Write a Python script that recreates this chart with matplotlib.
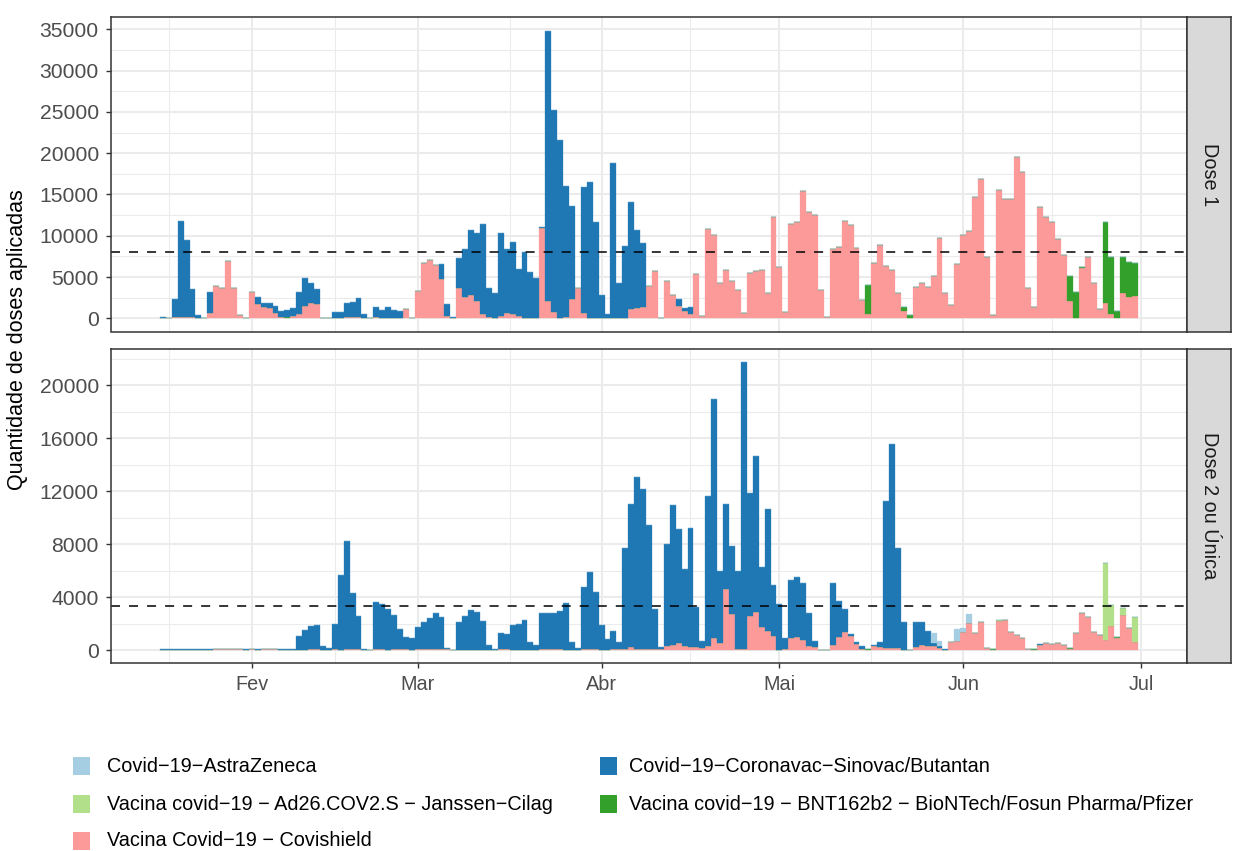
import matplotlib
matplotlib.use("Agg")
import matplotlib.dates as mdates
import matplotlib.pyplot as plt
import pandas as pd
from matplotlib.patches import Rectangle

plt.rcParams["font.family"] = ["Liberation Sans", "DejaVu Sans"]

W, H = 1243, 851

VACCINES = [
    "Covid\u221219\u2212AstraZeneca",
    "Covid\u221219\u2212Coronavac\u2212Sinovac/Butantan",
    "Vacina covid\u221219 \u2212 Ad26.COV2.S \u2212 Janssen\u2212Cilag",
    "Vacina covid\u221219 \u2212 BNT162b2 \u2212 BioNTech/Fosun Pharma/Pfizer",
    "Vacina Covid\u221219 \u2212 Covishield",
]
COLORS = ["#A6CEE3", "#1F78B4", "#B2DF8A", "#33A02C", "#FB9A99"]
DOSES = ["Dose 1", "Dose 2 ou \u00danica"]
REFERENCE_LINE = [8000, 3320]

days = pd.date_range("2021-01-17", "2021-06-30", freq="D")

# daily doses, one value per day from 2021-01-17
covishield_dose1 = [
    0, 80, 150, 100, 100, 100, 0, 80, 650, 3900,
    3670, 6940, 3670, 400, 80, 3190, 1735, 1410, 1290, 650,
    160, 0, 320, 525, 1490, 1860, 1735, 80, 80, 80,
    0, 200, 120, 120, 0, 80, 160, 0, 0, 0,
    0, 1130, 80, 3310, 6700, 7060, 6460, 4760, 320, 0,
    3670, 2580, 2825, 2100, 525, 160, 80, 280, 650, 525,
    280, 80, 80, 80, 10940, 2100, 770, 80, 160, 2340,
    3670, 650, 80, 80, 80, 0, 80, 0, 80, 1130,
    1250, 1370, 3915, 5730, 80, 4520, 2825, 1490, 890, 525,
    5370, 280, 10820, 10090, 4280, 5850, 4520, 3430, 650, 5490,
    5730, 5850, 3070, 12270, 6220, 770, 11420, 11660, 15420, 12870,
    12510, 3430, 160, 8400, 8640, 11790, 11300, 8520, 2220, 525,
    6700, 8880, 6340, 5850, 3070, 890, 0, 3790, 4280, 3790,
    5120, 9730, 3070, 1615, 6580, 10090, 10570, 14690, 16870, 7430,
    400, 15540, 14450, 14450, 19530, 17720, 3670, 1370, 13480, 12270,
    11660, 9600, 7670, 2100, 0, 6100, 7430, 4280, 1130, 1860,
    525, 0, 3070, 2580, 2700,
]
coronavac_dose1 = [
    100, 0, 2200, 11700, 9400, 3450, 400, 0, 2540, 0,
    0, 0, 0, 0, 0, 0, 850, 450, 570, 840,
    730, 900, 930, 2665, 3390, 2420, 1815, 0, 0, 690,
    770, 1660, 1860, 2340, 525, 0, 1210, 1010, 1370, 1010,
    890, 0, 0, 0, 0, 0, 0, 1820, 1415, 160,
    3630, 5820, 7875, 8230, 10895, 3510, 2990, 10050, 7750, 8715,
    5690, 7950, 5530, 4800, 120, 32690, 24450, 21510, 15860, 11260,
    0, 15250, 16420, 11580, 2745, 525, 18720, 4280, 8680, 12960,
    9450, 7750, 0, 0, 0, 0, 0, 850, 360, 845,
] + [0] * 75
pfizer_dose1_dates = ["2021-02-07", "2021-05-16", "2021-05-22", "2021-05-23",
                      "2021-06-19", "2021-06-20", "2021-06-21", "2021-06-25",
                      "2021-06-26", "2021-06-27", "2021-06-28", "2021-06-29",
                      "2021-06-30"]
pfizer_dose1 = [100, 3500, 480, 400, 3020, 3190, 120, 9800, 6900, 890, 4360, 4240, 4000]

covishield_dose2 = [
    0, 0, 0, 0, 0, 0, 0, 0, 0, 40,
    40, 40, 40, 40, 0, 40, 0, 40, 40, 40,
    0, 0, 0, 0, 0, 40, 40, 0, 0, 40,
    0, 40, 40, 40, 0, 0, 40, 40, 0, 40,
    40, 40, 0, 40, 40, 40, 40, 40, 40, 0,
    0, 0, 0, 0, 0, 0, 0, 40, 40, 0,
    0, 0, 0, 0, 40, 40, 40, 40, 0, 0,
    0, 40, 40, 40, 0, 0, 40, 40, 50, 230,
    50, 50, 50, 75, 50, 300, 380, 530, 300, 230,
    230, 180, 300, 905, 530, 4600, 2720, 75, 75, 2570,
    2870, 1740, 1430, 1060, 30, 50, 905, 980, 755, 300,
    230, 30, 30, 380, 980, 1360, 1060, 450, 50, 30,
    300, 230, 150, 150, 150, 30, 30, 230, 380, 300,
    300, 150, 30, 600, 680, 1360, 2040, 1280, 2110, 125,
    30, 2190, 2260, 1360, 1130, 905, 75, 30, 380, 530,
    450, 530, 380, 75, 1280, 2790, 2490, 1360, 1130, 755,
    1810, 905, 2640, 1660, 600,
]
coronavac_dose2 = [
    40, 40, 40, 40, 40, 40, 40, 40, 40, 0,
    0, 0, 0, 0, 40, 0, 75, 0, 0, 0,
    40, 40, 75, 1080, 1510, 1740, 1810, 300, 150, 1960,
    5660, 8150, 4230, 2490, 50, 0, 3620, 3400, 3090, 2570,
    1510, 905, 905, 1660, 2040, 2340, 2790, 2415, 75, 0,
    2110, 2570, 3020, 2870, 2190, 380, 75, 1210, 1130, 1890,
    1960, 2260, 600, 380, 2720, 2720, 2790, 2870, 3550, 600,
    150, 4680, 5810, 4300, 1890, 830, 1430, 530, 7650, 10790,
    13010, 12100, 9380, 3015, 180, 7700, 10560, 8600, 5810, 8980,
    3020, 500, 11320, 18045, 5430, 6420, 5130, 5885, 21665, 9280,
    11770, 4530, 9210, 3850, 3440, 855, 4375, 4530, 4305, 2490,
    450, 0, 0, 4680, 2720, 1730, 150, 150, 250, 0,
    80, 370, 11100, 15400, 7550, 2080, 0, 1880, 1730, 1130,
    230, 150, 40, 0, 0, 0, 0, 0, 0, 0,
    0, 0, 0, 0, 0, 0, 0, 0, 50, 0,
] + [0] * 15
astrazeneca_dose2_dates = ["2021-05-13", "2021-05-27", "2021-05-28",
                           "2021-05-31", "2021-06-01", "2021-06-02"]
astrazeneca_dose2 = [30, 750, 380, 910, 300, 680]
janssen_dose2_dates = ["2021-06-07", "2021-06-25", "2021-06-26", "2021-06-28", "2021-06-30"]
janssen_dose2 = [40, 5815, 1590, 530, 1890]
pfizer_dose2_dates = ["2021-05-16", "2021-06-05", "2021-06-06", "2021-06-13",
                      "2021-06-19", "2021-06-27"]
pfizer_dose2 = [40, 40, 40, 40, 40, 40]


def sparse(dates, values):
    return pd.Series(values, index=pd.to_datetime(dates)).reindex(days, fill_value=0).values


dose_tables = [
    pd.DataFrame({
        VACCINES[0]: 0,
        VACCINES[1]: coronavac_dose1,
        VACCINES[2]: 0,
        VACCINES[3]: sparse(pfizer_dose1_dates, pfizer_dose1),
        VACCINES[4]: covishield_dose1,
    }, index=days),
    pd.DataFrame({
        VACCINES[0]: sparse(astrazeneca_dose2_dates, astrazeneca_dose2),
        VACCINES[1]: coronavac_dose2,
        VACCINES[2]: sparse(janssen_dose2_dates, janssen_dose2),
        VACCINES[3]: sparse(pfizer_dose2_dates, pfizer_dose2),
        VACCINES[4]: covishield_dose2,
    }, index=days),
]


def rect(left, top, right, bottom):
    return [left / W, 1 - bottom / H, (right - left) / W, (bottom - top) / H]


fig = plt.figure(figsize=(W / 100, H / 100), dpi=100)
panel_rows = [(17, 331.5), (348.5, 663)]
y_limits = [(-1600, 36490), (-981, 22755)]
y_major = [list(range(0, 35001, 5000)), list(range(0, 20001, 4000))]
y_minor = [list(range(2500, 35001, 5000)), list(range(2000, 22001, 4000))]

x0 = mdates.date2num(days[0])
month_starts = pd.to_datetime(["2021-02-01", "2021-03-01", "2021-04-01",
                               "2021-05-01", "2021-06-01", "2021-07-01"])
month_labels = ["Fev", "Mar", "Abr", "Mai", "Jun", "Jul"]
minor_x = pd.to_datetime(["2021-01-18 00:00", "2021-02-15 00:00", "2021-03-16 12:00",
                          "2021-04-16 00:00", "2021-05-16 12:00", "2021-06-16 00:00"])

for k, table in enumerate(dose_tables):
    top, bottom = panel_rows[k]
    ax = fig.add_axes(rect(111, top, 1187, bottom))
    x = mdates.date2num(table.index)
    base = pd.Series(0.0, index=table.index)
    for name, color in reversed(list(zip(VACCINES, COLORS))):
        vals = table[name].astype(float)
        ax.bar(x, vals.values, width=1.0, bottom=base.values, color=color,
               edgecolor=color, linewidth=0.2, zorder=2)
        base = base + vals
    ax.axhline(REFERENCE_LINE[k], color="black", linestyle=(0, (5.9, 5.9)),
               linewidth=1.1, zorder=3)

    ax.set_xlim(x0 - 8.75, x0 + 164 + 8.75)
    ax.set_ylim(*y_limits[k])
    ax.set_yticks(y_major[k])
    ax.set_yticks(y_minor[k], minor=True)
    ax.set_xticks(mdates.date2num(month_starts))
    ax.set_xticks(mdates.date2num(minor_x), minor=True)
    ax.set_axisbelow(True)
    ax.grid(which="major", color="#EBEBEB", linewidth=1.45, zorder=0)
    ax.grid(which="minor", color="#EBEBEB", linewidth=0.75, zorder=0)
    for spine in ax.spines.values():
        spine.set_color("#333333")
        spine.set_linewidth(1.1)
        spine.set_zorder(4)
    ax.tick_params(which="minor", length=0)
    ax.tick_params(which="major", length=3.8, width=1.0, color="#333333",
                   labelsize=14.3, labelcolor="#4D4D4D", pad=5)
    ax.tick_params(axis="y", which="major", labelsize=15.2)
    if k == 0:
        ax.tick_params(axis="x", which="major", length=0, labelbottom=False)
    else:
        ax.set_xticklabels(month_labels)
    ax.set_yticklabels([str(v) for v in y_major[k]])

    strip = fig.add_axes(rect(1187, top, 1231, bottom))
    strip.set_facecolor("#D9D9D9")
    strip.set_xticks([])
    strip.set_yticks([])
    for spine in strip.spines.values():
        spine.set_color("#333333")
        spine.set_linewidth(1.1)
    strip.text(0.5, 0.5, DOSES[k], rotation=270, ha="center", va="center",
               fontsize=14.3, color="#1A1A1A", transform=strip.transAxes)

fig.text(18 / W, 1 - 340 / H, "Quantidade de doses aplicadas", rotation=90,
         ha="center", va="center", fontsize=15.5, color="black")

# legend, filled by row in two columns
row_y = [766, 804, 841]
key_x = [73, 600]
text_x = [107, 629]
for i, (name, color) in enumerate(zip(VACCINES, COLORS)):
    r, c = divmod(i, 2)
    fig.add_artist(Rectangle((key_x[c] / W, 1 - (row_y[r] + 9) / H), 17 / W, 18 / H,
                             transform=fig.transFigure, facecolor=color,
                             edgecolor="none"))
    fig.text(text_x[c] / W, 1 - row_y[r] / H, name, ha="left", va="center",
             fontsize=14.3, color="black")

fig.savefig("out.png", dpi=100)
